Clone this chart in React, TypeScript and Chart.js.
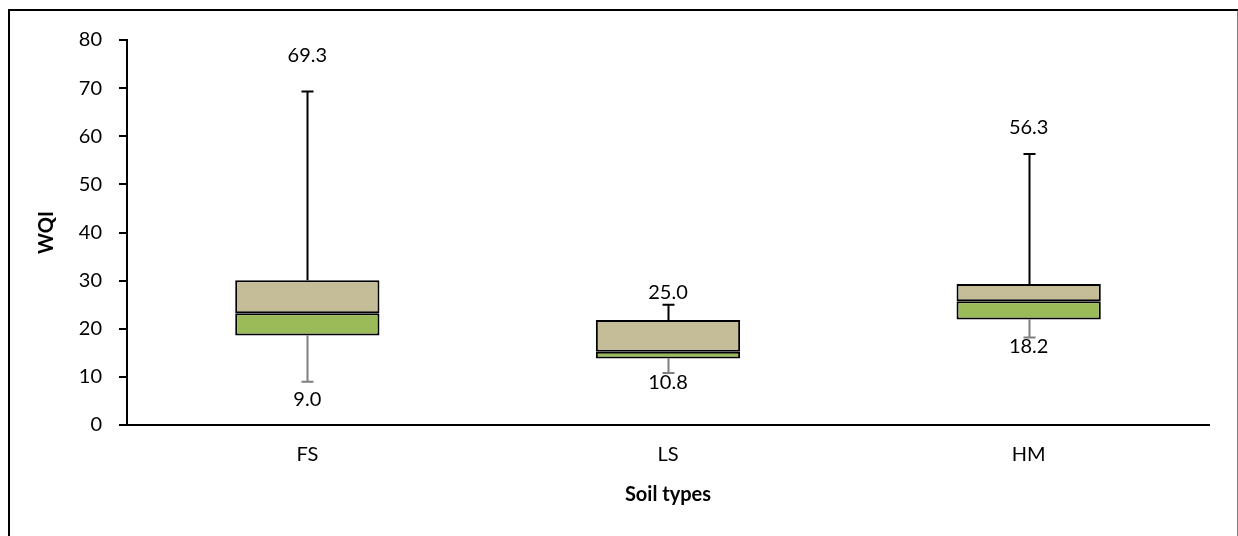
import React, { useEffect, useRef } from "react";
import { Chart, registerables } from "chart.js";

Chart.register(...registerables);

const categories = ["FS", "LS", "HM"];
const minValues = [9.0, 10.8, 18.2];
const q1Values = [18.6, 13.8, 21.9];
const medianValues = [23.2, 15.2, 25.7];
const q3Values = [30.1, 21.8, 29.3];
const maxValues = [69.3, 25.0, 56.3];
const yTicks = [0, 10, 20, 30, 40, 50, 60, 70, 80];

const FONT = "Lato, 'Open Sans', sans-serif";
// label offsets (px) from whisker ends, style only
const maxLabelGap = [36, 12, 27];
const minLabelGap = [18, 10, 9];

const whiskerPlugin = {
  id: "whiskers",
  beforeDatasetsDraw(chart: any) {
    const { ctx, scales } = chart;
    const xs = scales.x;
    const ys = scales.y;
    ctx.save();
    ctx.lineWidth = 2;
    categories.forEach((_, i) => {
      const x = Math.round(xs.getPixelForValue(i)) + 0.5;
      const cap = 6;
      const yq3 = ys.getPixelForValue(q3Values[i]);
      const ymax = ys.getPixelForValue(maxValues[i]);
      ctx.strokeStyle = "#000000";
      ctx.beginPath();
      ctx.moveTo(x, yq3);
      ctx.lineTo(x, ymax);
      ctx.moveTo(x - cap, ymax);
      ctx.lineTo(x + cap, ymax);
      ctx.stroke();
      const yq1 = ys.getPixelForValue(q1Values[i]);
      const ymin = ys.getPixelForValue(minValues[i]);
      ctx.strokeStyle = "#7f7f7f";
      ctx.beginPath();
      ctx.moveTo(x, yq1);
      ctx.lineTo(x, ymin);
      ctx.moveTo(x - cap, ymin);
      ctx.lineTo(x + cap, ymin);
      ctx.stroke();
    });
    ctx.restore();
  },
  afterDatasetsDraw(chart: any) {
    const { ctx, scales } = chart;
    const xs = scales.x;
    const ys = scales.y;
    ctx.save();
    ctx.fillStyle = "#000000";
    ctx.font = `20px ${FONT}`;
    ctx.textAlign = "center";
    ctx.textBaseline = "middle";
    categories.forEach((_, i) => {
      const x = xs.getPixelForValue(i);
      ctx.fillText(maxValues[i].toFixed(1), x, ys.getPixelForValue(maxValues[i]) - maxLabelGap[i]);
      ctx.fillText(minValues[i].toFixed(1), x, ys.getPixelForValue(minValues[i]) + minLabelGap[i]);
    });
    ctx.restore();
  },
};

export default function App() {
  const ref = useRef<HTMLCanvasElement | null>(null);
  useEffect(() => {
    if (!ref.current) return;
    const chart = new Chart(ref.current, {
      type: "bar",
      data: {
        labels: categories,
        datasets: [
          {
            label: "Q3-Median",
            data: categories.map((_, i) => [medianValues[i], q3Values[i]]) as any,
            backgroundColor: "#C4BD97",
            borderColor: "#000000",
            borderWidth: 2,
            borderSkipped: false,
            grouped: false,
            barPercentage: 0.4,
            categoryPercentage: 1,
          } as any,
          {
            label: "Median-Q1",
            data: categories.map((_, i) => [q1Values[i], medianValues[i]]) as any,
            backgroundColor: "#9BBB59",
            borderColor: "#000000",
            borderWidth: 2,
            borderSkipped: false,
            grouped: false,
            barPercentage: 0.4,
            categoryPercentage: 1,
          } as any,
        ],
      },
      options: {
        animation: false,
        responsive: false,
        maintainAspectRatio: false,
        layout: { padding: { left: 0, right: 29, top: 40, bottom: 0 } },
        plugins: {
          legend: { display: false },
          tooltip: { enabled: false },
        },
        scales: {
          x: {
            offset: true,
            grid: { display: false },
            border: { display: true, color: "#000000", width: 2 },
            ticks: { color: "#000000", font: { family: FONT, size: 20 }, padding: 10 },
            title: {
              display: true,
              text: "Soil types",
              color: "#000000",
              font: { family: FONT, size: 20, weight: "bold" },
              padding: { top: 0, bottom: 29 },
            },
            afterFit(scale: any) {
              scale.height = 111;
            },
          },
          y: {
            min: 0,
            max: 80,
            afterBuildTicks(scale: any) {
              scale.ticks = yTicks.map((v) => ({ value: v }));
            },
            grid: {
              display: true,
              drawOnChartArea: false,
              drawTicks: true,
              tickLength: 8,
              color: "#000000",
              lineWidth: 2,
            },
            border: { display: true, color: "#000000", width: 2 },
            ticks: { color: "#000000", font: { family: FONT, size: 20 }, padding: 17 },
            title: {
              display: true,
              text: "WQI",
              color: "#000000",
              font: { family: FONT, size: 20, weight: "bold" },
              padding: { top: 35, bottom: 0 },
            },
            afterFit(scale: any) {
              scale.width = 127;
            },
          },
        },
      } as any,
      plugins: [whiskerPlugin],
    });
    return () => chart.destroy();
  }, []);

  return (
    <div
      style={{
        position: "fixed",
        left: 0,
        top: 0,
        width: 1238,
        height: 536,
        overflow: "hidden",
        background: "#ffffff",
      }}
    >
      <div
        style={{
          position: "absolute",
          left: 8,
          top: 9,
          width: 1227,
          height: 600,
          borderLeft: "2px solid #000000",
          borderTop: "2px solid #000000",
          borderRight: "2px solid #7f7f7f",
        }}
      />
      <canvas
        ref={ref}
        width={1238}
        height={536}
        style={{ position: "absolute", left: 0, top: 0, width: 1238, height: 536 }}
      />
    </div>
  );
}
